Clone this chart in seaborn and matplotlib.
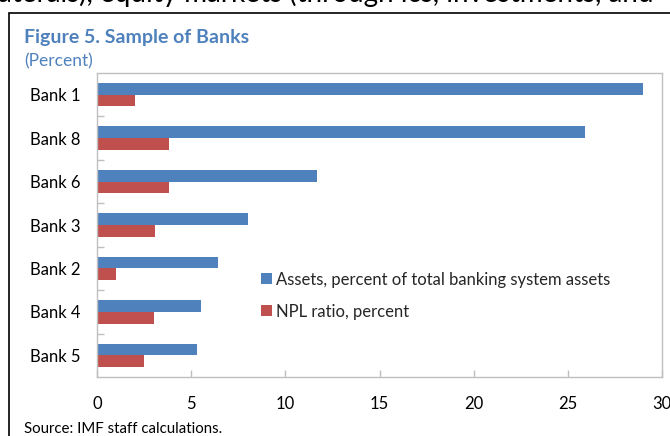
import matplotlib
matplotlib.use("Agg")
import matplotlib.pyplot as plt
from matplotlib.patches import Rectangle
from matplotlib.ticker import FixedLocator, NullFormatter
import seaborn as sns
import pandas as pd

banks = ["Bank 1", "Bank 8", "Bank 6", "Bank 3", "Bank 2", "Bank 4", "Bank 5"]
assets_share = [29.0, 25.9, 11.7, 8.0, 6.4, 5.5, 5.3]
npl_ratio = [2.0, 3.8, 3.8, 3.1, 1.0, 3.0, 2.5]
series_names = ["Assets, percent of total banking system assets", "NPL ratio, percent"]
x_ticks = [0, 5, 10, 15, 20, 25, 30]

df = pd.DataFrame({
    "bank": banks * 2,
    "value": assets_share + npl_ratio,
    "series": [series_names[0]] * len(banks) + [series_names[1]] * len(banks),
})

sns.set_theme(style="white")
plt.rcParams["font.family"] = ["Lato", "DejaVu Sans"]

W, H = 670, 436
fig = plt.figure(figsize=(W / 100, H / 100), dpi=100)
ax = fig.add_axes([97 / W, 1 - 377 / H, (662 - 97) / W, (377 - 73) / H])

palette = {series_names[0]: "#4F81BD", series_names[1]: "#C0504D"}
sns.barplot(data=df, x="value", y="bank", hue="series", order=banks,
            hue_order=series_names, palette=palette, orient="h",
            width=0.54, saturation=1, linewidth=0, ax=ax)

ax.set_xlim(0, 30)
ax.set_ylim(len(banks) - 0.5, -0.5)
ax.set_xlabel("")
ax.set_ylabel("")

grey = "#BFBFBF"
for s in ax.spines.values():
    s.set_visible(True)
    s.set_color(grey)
    s.set_linewidth(1.0)

ax.set_xticks(x_ticks)
ax.set_xticklabels([str(t) for t in x_ticks])
ax.tick_params(axis="x", direction="in", length=5, width=1, color=grey,
               labelsize=12, labelcolor="black", pad=14, bottom=True)
ax.tick_params(axis="y", which="major", length=0, labelsize=12,
               labelcolor="black", pad=12)
ax.yaxis.set_minor_locator(FixedLocator([i + 0.5 for i in range(len(banks) - 1)]))
ax.yaxis.set_minor_formatter(NullFormatter())
ax.tick_params(axis="y", which="minor", direction="in", length=5, width=1,
               color=grey, left=True)

leg = ax.legend(loc="upper left", bbox_to_anchor=((254 - 97) / (662 - 97), (377 - 265) / (377 - 73)),
                frameon=False, fontsize=12, handlelength=0.65, handleheight=0.65,
                handletextpad=0.3, labelspacing=0.95, borderaxespad=0)

# outer frame of the exhibit box
fig.add_artist(Rectangle((9 / W, -0.2), 1.2, 1 - 13 / H + 0.2, transform=fig.transFigure,
                         fill=False, edgecolor="black", linewidth=1.2, clip_on=False))

fig.text(24 / W, 1 - 37 / H, "Figure 5. Sample of Banks", color="#4F81BD",
         fontsize=14, fontweight="bold", va="center", ha="left")
fig.text(24 / W, 1 - 61 / H, "(Percent)", color="#4F81BD", fontsize=12.5,
         va="center", ha="left")
fig.text(24 / W, 1 - 429 / H, "Source: IMF staff calculations.", color="black",
         fontsize=10.8, va="center", ha="left")
fig.text(-2 / W, 1 - 2 / H, "aterals), equity markets (through ics, investments, and",
         color="black", fontsize=20, va="baseline", ha="left")

fig.savefig("out.png", dpi=100)
